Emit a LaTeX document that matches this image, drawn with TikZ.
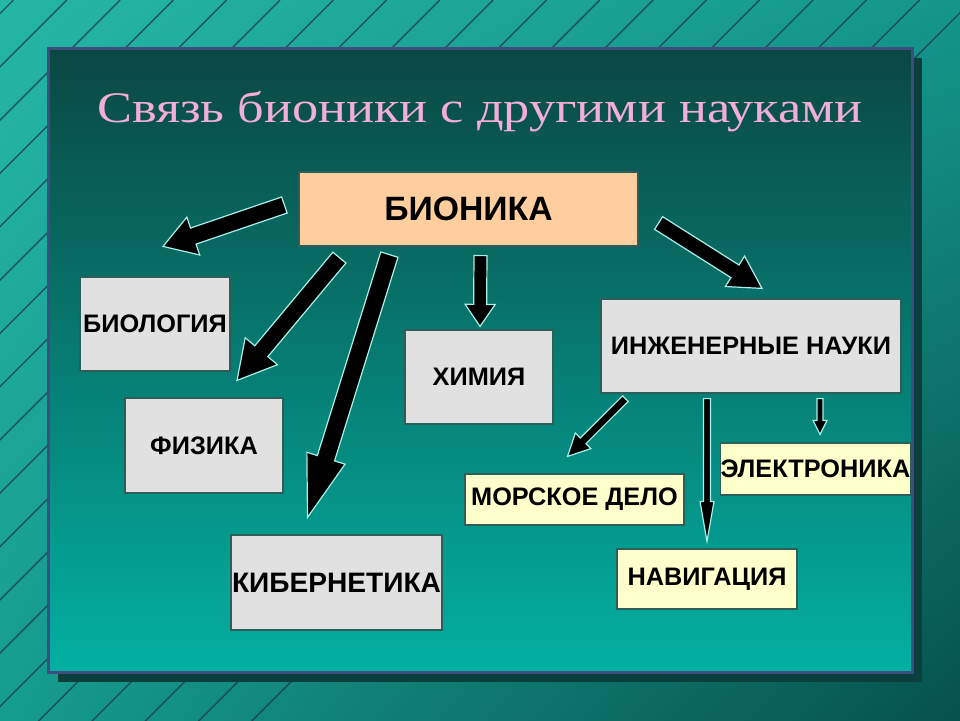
\documentclass[tikz,border=0pt]{standalone}
\usepackage{fontspec}
\setmainfont{Liberation Serif}
\setsansfont{Liberation Sans}
\newfontfamily\titlefont[FakeStretch=1.2]{Liberation Serif}
\usetikzlibrary{calc, shadings}
\definecolor{bgul}{HTML}{25B6A6}
\definecolor{bgur}{HTML}{14968B}
\definecolor{bgll}{HTML}{159C90}
\definecolor{bglr}{HTML}{07514C}
\definecolor{stripe}{HTML}{1E3A52}
\definecolor{paneltop}{HTML}{0A4743}
\definecolor{panelbot}{HTML}{03B0A2}
\definecolor{panelrim}{HTML}{3D4D80}
\definecolor{panelshd}{HTML}{0A3F3D}
\definecolor{titlepink}{HTML}{F2AED6}
\definecolor{peach}{HTML}{FFCE9E}
\definecolor{lgray}{HTML}{E1E1E1}
\definecolor{cream}{HTML}{FFFFCC}
\definecolor{boxline}{HTML}{2E5E5A}
\definecolor{arrowrim}{HTML}{A8F0E8}
\tikzset{
    %Define standard box and block arrow
    box/.style={draw=boxline, line width=0.3mm, shape=rectangle, inner sep=0pt,
                font=\sffamily\bfseries\fontsize{18}{21}\selectfont},
    blk/.style n args={3}{fill=black, draw=arrowrim, line width=0.3mm, line join=miter,
      to path={let \p1=(\tikztostart), \p2=(\tikztotarget),
                   \n1={atan2(\y2-\y1,\x2-\x1)} in
        ($(\p1)+(\n1+90:#1*0.125mm)$)
        -- ($(\p2)+(\n1+180:#3*0.25mm)+(\n1+90:#1*0.125mm)$)
        -- ($(\p2)+(\n1+180:#3*0.25mm)+(\n1+90:#2*0.125mm)$)
        -- (\p2)
        -- ($(\p2)+(\n1+180:#3*0.25mm)+(\n1-90:#2*0.125mm)$)
        -- ($(\p2)+(\n1+180:#3*0.25mm)+(\n1-90:#1*0.125mm)$)
        -- ($(\p1)+(\n1-90:#1*0.125mm)$) -- cycle}},
}
\begin{document}
\begin{tikzpicture}[x=0.25mm, y=-0.25mm]
    \useasboundingbox (0,0) rectangle (960,720);

    % striped background
    \shade[upper left=bgul, upper right=bgur, lower left=bgll, lower right=bglr]
        (0,0) rectangle (960,720);
    \begin{scope}
        \clip (0,0) rectangle (960,720);
        \foreach \k in {-14,...,18}
            \draw[stripe, line width=0.35mm, opacity=0.8] (13.5+\k*53.3,0) -- ++(-760,760);
    \end{scope}

    % panel with its shadow
    \fill[panelshd] (58,58) rectangle (922,682);
    \shade[top color=paneltop, bottom color=panelbot] (48,48) rectangle (912,672);
    \draw[panelrim, line width=0.75mm] (48,48) rectangle (912,672);

    \node[anchor=base, text=titlepink, font=\titlefont\fontsize{31}{37}\selectfont] (title)
        at (480,122) {Связь бионики с другими науками};

    \node[box, fill=peach, minimum width=84.75mm, minimum height=18.5mm,
          font=\sffamily\bfseries\fontsize{24}{27}\selectfont] (bion) at (468.5,209) {БИОНИКА};
    \node[box, fill=lgray, minimum width=37.5mm, minimum height=23.5mm] (biol) at (155,324) {БИОЛОГИЯ};
    \node[box, fill=lgray, minimum width=39.5mm, minimum height=23.75mm] (fiz) at (204,445.5) {ФИЗИКА};
    \node[box, fill=lgray, minimum width=52.75mm, minimum height=23.75mm,
          font=\sffamily\bfseries\fontsize{20}{23}\selectfont] (kib) at (336.5,582.5) {КИБЕРНЕТИКА};
    \node[box, fill=lgray, minimum width=37mm, minimum height=23.5mm] (him) at (479,377) {ХИМИЯ};
    \node[box, fill=lgray, minimum width=75mm, minimum height=23.5mm] (inzh) at (751,346) {ИНЖЕНЕРНЫЕ НАУКИ};
    \node[box, fill=cream, minimum width=46.25mm, minimum height=13mm] (elek) at (815.5,469) {ЭЛЕКТРОНИКА};
    \node[box, fill=cream, minimum width=54.75mm, minimum height=12.75mm] (mor) at (574.5,499.5) {МОРСКОЕ ДЕЛО};
    \node[box, fill=cream, minimum width=45mm, minimum height=15mm] (nav) at (707,579) {НАВИГАЦИЯ};

    % block arrows
    \path[blk={17}{40}{32}] ($(bion.west)+(-14,-4)$) to ($(biol.north)+(8,-30)$);
    \path[blk={17}{42}{38}] ($(bion.south west)+(41,11)$) to ($(fiz.north)+(33,-17)$);
    \path[blk={18}{40}{62}] ($(bion.south west)+(91,8)$) to ($(kib.north)+(-29,-17)$);
    \path[blk={13}{30}{22}] ($(bion.south)+(12,9)$) to ($(him.north)+(1,-3)$);
    \path[blk={15}{36}{32}] ($(bion.east)+(20,14)$) to ($(inzh.north)+(11,-10)$);
    \path[blk={8}{22}{22}] ($(inzh.south west)+(25,5)$) to ($(mor.north)+(-7,-17)$);
    \path[blk={7}{14}{40}] ($(inzh.south)+(-44,5)$) to ($(nav.north)+(0,-7)$);
    \path[blk={6}{14}{14}] ($(inzh.south)+(69,5)$) to ($(elek.north)+(4.5,-8)$);
\end{tikzpicture}
\end{document}
